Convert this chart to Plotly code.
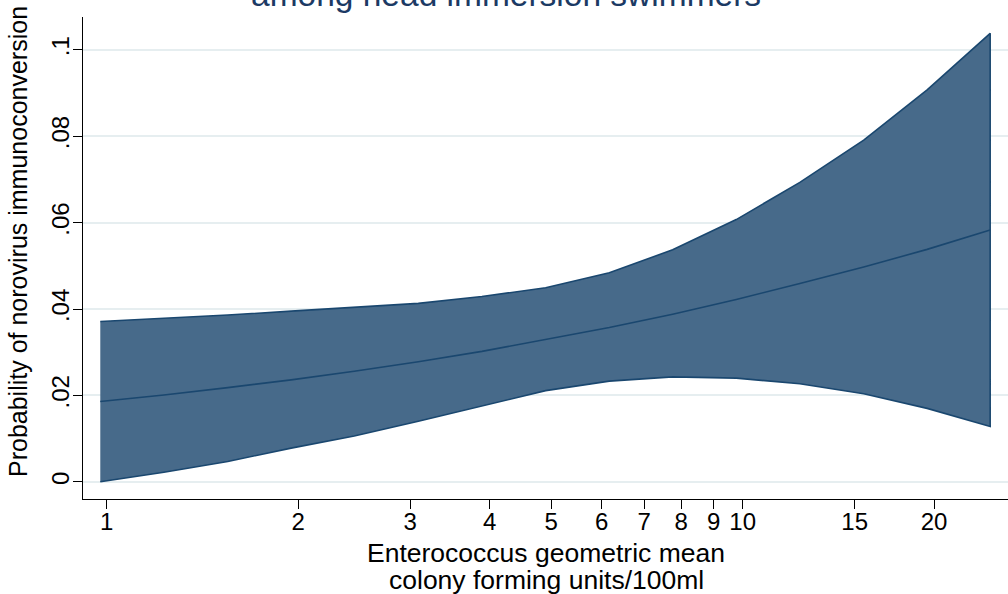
import plotly.graph_objects as go

# Enterococcus geometric mean (CFU/100ml) at which predictions are drawn
x_vals = [0.977, 1.23, 1.55, 1.95, 2.45, 3.09, 3.89, 4.90, 6.17, 7.76, 9.77, 12.3, 15.5, 19.5, 24.5]
# predicted probability of norovirus immunoconversion
pred = [0.0186, 0.0201, 0.0218, 0.0236, 0.0256, 0.0278, 0.0302, 0.0329, 0.0357, 0.0388, 0.0422, 0.0459, 0.0497, 0.0538, 0.0583]
upper = [0.0371, 0.0378, 0.0386, 0.0395, 0.0404, 0.0413, 0.0429, 0.0449, 0.0484, 0.0537, 0.0607, 0.0693, 0.0791, 0.0907, 0.1038]
lower = [0.0000, 0.0022, 0.0047, 0.0078, 0.0106, 0.0140, 0.0175, 0.0211, 0.0233, 0.0243, 0.0240, 0.0227, 0.0204, 0.0170, 0.0128]

x_ticks = [1, 2, 3, 4, 5, 6, 7, 8, 9, 10, 15, 20]
x_tick_text = ["1", "2", "3", "4", "5", "6", "7", "8", "9", "10", "15", "20"]
y_ticks = [0, 0.02, 0.04, 0.06, 0.08, 0.1]
y_tick_text = ["0", ".02", ".04", ".06", ".08", ".1"]

title_text = "among head immersion swimmers"
x_title_1 = "Enterococcus geometric mean"
x_title_2 = "colony forming units/100ml"
y_title = "Probability of norovirus immunoconversion"

FONT = "Liberation Sans, Arial, sans-serif"
NAVY = "#1a476f"
FILL = "#476a8a"

fig = go.Figure()
fig.add_trace(go.Scatter(
    x=x_vals + x_vals[::-1],
    y=upper + lower[::-1],
    mode="lines",
    fill="toself",
    fillcolor=FILL,
    line=dict(color=NAVY, width=1.6),
    hoverinfo="skip",
    showlegend=False,
))
fig.add_trace(go.Scatter(
    x=x_vals, y=pred, mode="lines",
    line=dict(color=NAVY, width=1.6),
    showlegend=False,
))

W, H = 1008, 594
ml, mr, mt, mb = 83, 0, 17, 95
pw, ph = W - ml - mr, H - mt - mb


def px_x(p):
    return (p - ml) / pw


def px_y(p):
    return (H - mb - p) / ph


fig.update_layout(
    width=W, height=H,
    margin=dict(l=ml, r=mr, t=mt, b=mb, pad=0),
    paper_bgcolor="white",
    plot_bgcolor="white",
    font=dict(family=FONT, size=24, color="black"),
    xaxis=dict(
        type="log",
        range=[-0.0373, 1.4172],
        tickvals=x_ticks, ticktext=x_tick_text,
        showgrid=False, zeroline=False,
        showline=True, linecolor="black", linewidth=1.3,
        ticks="outside", ticklen=9, tickwidth=1.3, tickcolor="black",
        ticklabelstandoff=-8,
        tickfont=dict(family=FONT, size=24, color="black"),
    ),
    yaxis=dict(
        range=[-0.00398, 0.10759],
        tickvals=y_ticks, ticktext=y_tick_text,
        tickangle=-90,
        showgrid=True, gridcolor="#e6eef0", gridwidth=1.5,
        zeroline=False,
        showline=True, linecolor="black", linewidth=1.3,
        ticks="outside", ticklen=9, tickwidth=1.3, tickcolor="black",
        ticklabelstandoff=-6,
        tickfont=dict(family=FONT, size=24, color="black"),
    ),
    annotations=[
        dict(text=title_text, xref="paper", yref="paper",
             x=px_x(506), y=px_y(-5), xanchor="center", yanchor="middle",
             showarrow=False, font=dict(family=FONT, size=33.5, color="#1c3a64")),
        dict(text=y_title, xref="paper", yref="paper",
             x=px_x(18), y=px_y(242), xanchor="center", yanchor="middle",
             textangle=-90, showarrow=False,
             font=dict(family=FONT, size=25, color="black")),
        dict(text=x_title_1, xref="paper", yref="paper",
             x=px_x(546), y=px_y(553), xanchor="center", yanchor="middle",
             showarrow=False, font=dict(family=FONT, size=26.5, color="black")),
        dict(text=x_title_2, xref="paper", yref="paper",
             x=px_x(546), y=px_y(580), xanchor="center", yanchor="middle",
             showarrow=False, font=dict(family=FONT, size=26.5, color="black")),
    ],
)

fig.write_html(
    "out.html",
    config={"displayModeBar": False},
    post_script="document.body.style.margin='0';document.body.style.overflow='hidden';",
)
